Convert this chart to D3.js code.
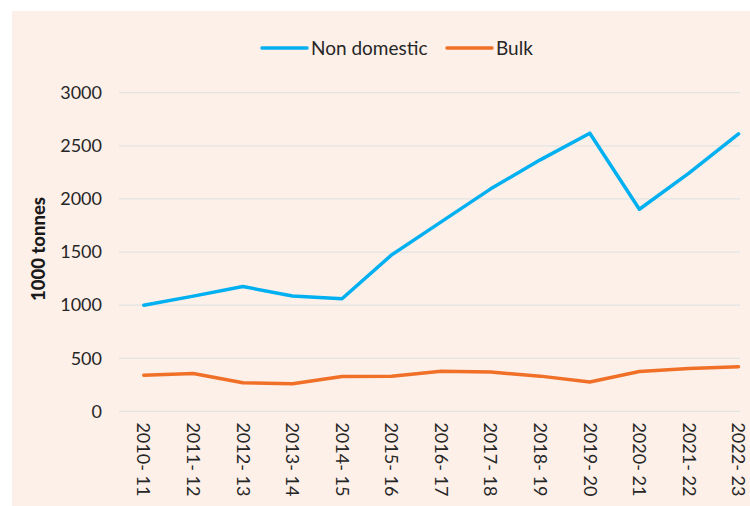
<!DOCTYPE html>
<html>
<head>
<meta charset="utf-8">
<script src="https://cdn.jsdelivr.net/npm/d3@7"></script>
<style>
  body { margin: 0; background: #fff; }
  svg { display: block; font-family: Lato, "Open Sans", sans-serif; }
  .axis text { fill: #262626; }
</style>
</head>
<body>
<div id="chart"></div>
<script>
;(function() {
  'use strict';

  // Financial years along the x axis.
  var years = ['2010-11', '2011-12', '2012-13', '2013-14', '2014-15', '2015-16',
               '2016-17', '2017-18', '2018-19', '2019-20', '2020-21', '2021-22', '2022-23'];

  // Values in 1000 tonnes.
  var nonDomestic = [1000, 1085, 1175, 1087, 1060, 1473, 1784, 2095, 2368, 2619, 1903, 2243, 2613];
  var bulk        = [341, 357, 270, 260, 329, 330, 379, 370, 332, 276, 376, 404, 420];

  var yTicks = [0, 500, 1000, 1500, 2000, 2500, 3000];

  var seriesNames  = ['Non domestic', 'Bulk'];
  var seriesColors = ['#00b0f0', '#f07028'];

  var width = 750, height = 506;
  var margin = {top: 92.7, right: 10, bottom: 94.6, left: 119};
  var plotRight = 740;   // gridlines stop here, the last band runs past the edge

  var series = [nonDomestic, bulk].map(function(values, i) {
    return {
      name: seriesNames[i],
      color: seriesColors[i],
      values: values.map(function(v, j) { return {year: years[j], value: v}; })
    };
  });

  var x = d3.scaleBand()
      .domain(years)
      .range([margin.left, margin.left + 49.56 * years.length]);

  var y = d3.scaleLinear()
      .domain([0, 3000])
      .range([height - margin.bottom, margin.top]);

  var svg = d3.select('#chart').append('svg')
      .attr('width', width)
      .attr('height', height);

  // Peach panel behind the chart.
  svg.append('rect')
      .attr('x', 12).attr('y', 11)
      .attr('width', width - 12).attr('height', height - 11)
      .attr('fill', '#fdf0e9');

  // Gridlines.
  svg.append('g')
      .selectAll('line')
      .data(yTicks)
      .enter().append('line')
      .attr('x1', margin.left)
      .attr('x2', plotRight)
      .attr('y1', function(d) { return y(d); })
      .attr('y2', function(d) { return y(d); })
      .attr('stroke', '#e2e4e4')
      .attr('stroke-width', 1.3);

  // y axis labels.
  var yAxis = d3.axisLeft(y)
      .tickValues(yTicks)
      .tickFormat(d3.format('d'))
      .tickSize(0)
      .tickPadding(17);

  svg.append('g')
      .attr('class', 'axis')
      .attr('transform', 'translate(' + margin.left + ',0)')
      .call(yAxis)
      .call(function(g) { g.select('.domain').remove(); })
      .selectAll('text')
      .attr('font-size', 18)
      .attr('font-family', 'Lato, sans-serif');

  // x axis labels, rotated to read downwards.
  var xAxis = d3.axisBottom(x)
      .tickSize(0)
      .tickFormat(function(d) { return d.replace('-', '- '); });

  svg.append('g')
      .attr('class', 'axis')
      .attr('transform', 'translate(0,' + y(0) + ')')
      .call(xAxis)
      .call(function(g) { g.select('.domain').remove(); })
      .selectAll('text')
      .attr('font-size', 18)
      .attr('font-family', 'Lato, sans-serif')
      .attr('text-anchor', 'start')
      .attr('dy', '0.35em')
      .attr('transform', 'translate(0,11) rotate(90)')
      .attr('y', 0)
      .attr('x', 0);

  // Axis title.
  svg.append('text')
      .attr('transform', 'translate(45,' + 249 + ') rotate(-90)')
      .attr('text-anchor', 'middle')
      .attr('font-size', 18.5)
      .attr('font-weight', 900)
      .attr('fill', '#1a1a1a')
      .text('1000 tonnes');

  // Lines.
  var line = d3.line()
      .x(function(d) { return x(d.year) + x.bandwidth() / 2; })
      .y(function(d) { return y(d.value); });

  svg.append('g')
      .selectAll('path')
      .data(series)
      .enter().append('path')
      .attr('d', function(d) { return line(d.values); })
      .attr('fill', 'none')
      .attr('stroke', function(d) { return d.color; })
      .attr('stroke-width', 3.5)
      .attr('stroke-linejoin', 'round')
      .attr('stroke-linecap', 'round');

  // Legend.
  var legendY = 48;
  var legendX = [262, 447];
  var legend = svg.append('g')
      .selectAll('g')
      .data(series)
      .enter().append('g')
      .attr('transform', function(d, i) { return 'translate(' + legendX[i] + ',' + legendY + ')'; });

  legend.append('line')
      .attr('x1', 0).attr('x2', 45)
      .attr('stroke', function(d) { return d.color; })
      .attr('stroke-width', 3.5)
      .attr('stroke-linecap', 'round');

  legend.append('text')
      .attr('x', 49)
      .attr('dy', '0.35em')
      .attr('font-size', 19)
      .attr('fill', '#262626')
      .text(function(d) { return d.name; });

}());
</script>
</body>
</html>
